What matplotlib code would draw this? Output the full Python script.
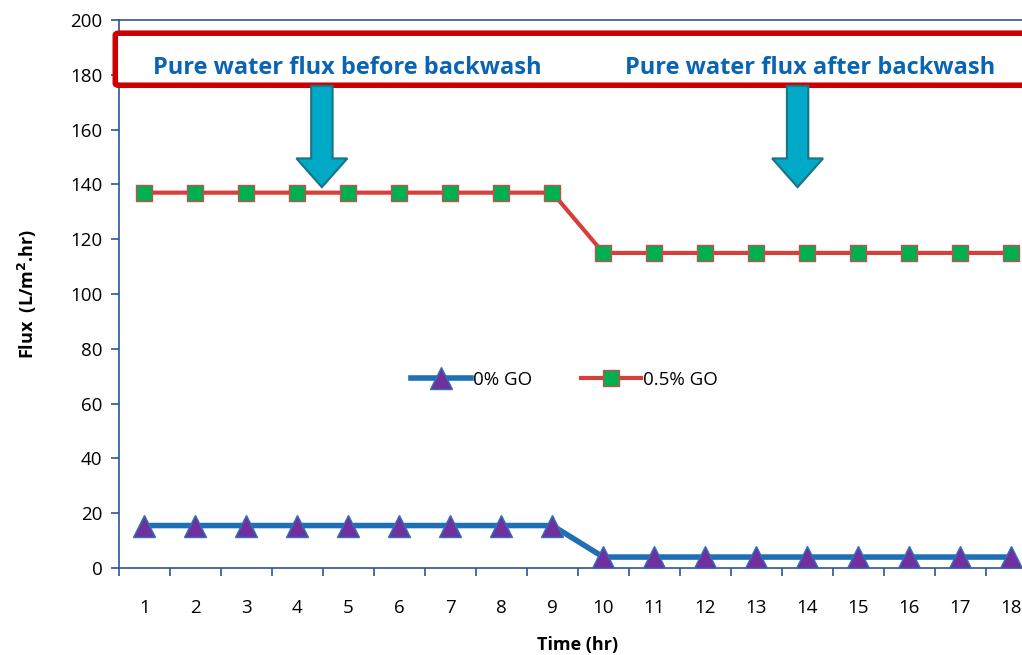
import matplotlib.pyplot as plt
from matplotlib.patches import FancyArrow, FancyBboxPatch

# data
time_hr = list(range(1, 19))
flux_0go = [15.5] * 9 + [4] * 9
flux_05go = [137] * 9 + [115] * 9
tick_labels = [str(t) for t in time_hr]

plt.rcParams['font.family'] = ['Open Sans', 'DejaVu Sans']

fig = plt.figure(figsize=(10.22, 6.55), dpi=100)
ax = fig.add_axes([0.1164, 0.1328, 0.898, 0.8366])

ax.plot(time_hr, flux_0go, color='#1F6FB5', lw=4, marker='^', ms=16,
        mfc='#7030A0', mec='#2E75B6', mew=1, label='0% GO', zorder=3)
ax.plot(time_hr, flux_05go, color='#D6403B', lw=3, marker='s', ms=12,
        mfc='#00B050', mec='#C0504D', mew=1, label='0.5% GO', zorder=3)

ax.set_xlim(0.5, 18.5)
ax.set_ylim(0, 200)
ax.set_yticks(range(0, 201, 20))
ax.set_xticks(time_hr)
ax.set_xticklabels(tick_labels)
ax.set_xticks([t + 0.5 for t in range(0, 18)], minor=True)
ax.tick_params(axis='x', which='major', length=0, pad=22, labelsize=13.5)
ax.tick_params(axis='x', which='minor', length=6, width=1.2, color='#2E5597', direction='out')
ax.tick_params(axis='y', length=6, width=1.2, color='#2E5597', labelsize=13.5, pad=6)
for s in ax.spines.values():
    s.set_color('#2E5597')
    s.set_linewidth(1.2)

ax.set_xlabel('Time (hr)', fontsize=13, fontweight='bold', labelpad=14)
ax.set_ylabel('Flux  (L/m$^\\mathbf{2}$.hr)', fontsize=13, fontweight='bold', labelpad=22)

# red annotation box
box = FancyBboxPatch((-0.004, 0.881), 1.0, 0.095, boxstyle='round,pad=0,rounding_size=0.004',
                     transform=ax.transAxes, fc='white', ec='#CC0000', lw=4, clip_on=False, zorder=4)
ax.add_patch(box)
ax.text(4.97, 182.5, 'Pure water flux before backwash', color='#0A64B4', fontsize=17,
        fontweight='bold', ha='center', va='center', zorder=5)
ax.text(14.05, 182.5, 'Pure water flux after backwash', color='#0A64B4', fontsize=17,
        fontweight='bold', ha='center', va='center', zorder=5)

# down arrows
for xc in [4.48, 13.81]:
    arr = FancyArrow(xc, 176, 0, -37, width=0.42, head_width=1.0, head_length=10.5,
                     length_includes_head=True, fc='#00A9C6', ec='#1B7385', lw=1.5, zorder=5)
    ax.add_patch(arr)

ax.legend(loc='center', bbox_to_anchor=(0.485, 0.343), ncol=2, frameon=False,
          fontsize=13.5, handlelength=3.2, columnspacing=2.6, handletextpad=0.1)

fig.savefig('out.png', dpi=100)
